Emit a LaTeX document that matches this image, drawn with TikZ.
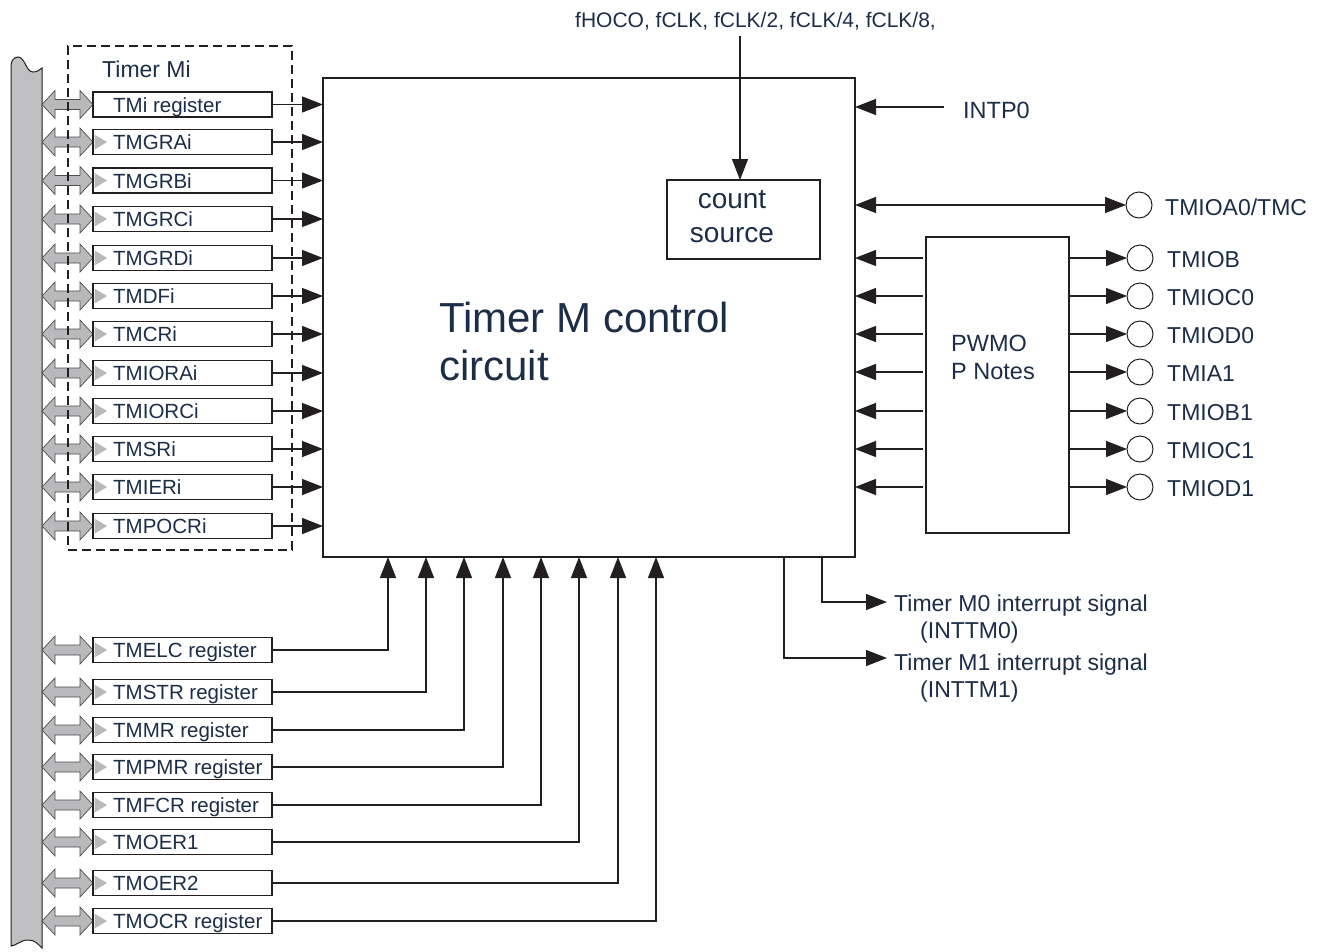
\documentclass[tikz,border=0pt]{standalone}
\usepackage{fontspec}
\setmainfont{Liberation Sans}
\usetikzlibrary{arrows.meta,calc}
\definecolor{txt}{RGB}{28,45,72}
\definecolor{linec}{RGB}{35,31,32}
\definecolor{busgray}{RGB}{192,192,194}
\definecolor{arrgray}{RGB}{185,185,187}
\begin{document}
\begin{tikzpicture}[x=1pt,y=-1pt,
  ln/.style={line width=1.3pt, draw=linec},
  arr/.style={ln, -{Triangle[length=21pt,width=16pt]}},
  arrb/.style={ln, {Triangle[length=21pt,width=16pt]}-{Triangle[length=21pt,width=16pt]}},
  regbox/.style={draw=linec, line width=1.8pt, fill=white, minimum width=179pt, minimum height=25pt, inner sep=0pt, outer sep=0pt},
  regtxt/.style={text=txt, font=\fontsize{20.5}{24}\selectfont, inner sep=0pt, anchor=base west},
  lbl/.style={text=txt, font=\fontsize{23}{27}\selectfont, inner sep=0pt, anchor=base west},
  dbl/.style={fill=arrgray, draw=linec!80, line width=0.7pt},
  pin/.style={circle, draw=linec, line width=1pt, minimum size=26pt, inner sep=0pt, outer sep=0pt},
  plainbox/.style={draw=linec, line width=1.5pt, inner sep=0pt, outer sep=0pt}]
\useasboundingbox (0,0) rectangle (1326,951);
% bus
\draw[fill=busgray, draw=linec, line width=1pt]
  (11,946) -- (11,66) .. controls (11,61) and (14,57) .. (18,57)
  .. controls (25,57) and (26,72) .. (33,72) .. controls (37,72) and (40,70) .. (42,68)
  -- (42,948) .. controls (38,944) and (35,940) .. (28,940)
  .. controls (20,940) and (16,946) .. (11,946) -- cycle;
% main box
\node[plainbox, minimum width=532pt, minimum height=479pt] (main) at (589,317.5) {};
\node[lbl, font=\fontsize{42}{48}\selectfont] (mt1) at (439,332) {Timer M control};
\node[lbl, font=\fontsize{42}{48}\selectfont] (mt2) at (439,380) {circuit};
% count source
\node[plainbox, line width=1.3pt, minimum width=153pt, minimum height=79pt] (cs) at (743.5,219.5) {};
\node[lbl, anchor=base, font=\fontsize{28}{34}\selectfont] (cs1) at (732,208) {count};
\node[lbl, anchor=base, font=\fontsize{28}{34}\selectfont] (cs2) at (732,242) {source};
\node[regtxt, font=\fontsize{21}{24}\selectfont] (clk) at (575,27) {fHOCO, fCLK, fCLK/2, fCLK/4, fCLK/8,};
\draw[arr] ([xshift=-3.5pt]cs.north |- 0,36) -- ([xshift=-3.5pt]cs.north);
% upper registers
\foreach \n/\y/\t in {u1/104.5/TMi register,u2/142/TMGRAi,u3/180.5/TMGRBi,u4/219/TMGRCi,u5/258/TMGRDi,u6/296/TMDFi,u7/334/TMCRi,u8/373/TMIORAi,u9/411/TMIORCi,u10/449/TMSRi,u11/487/TMIERi,u12/526/TMPOCRi}{
  \filldraw[dbl] (42,\y) -- (55,\y-14) -- (55,\y-5) -- (80,\y-5) -- (80,\y-14) -- (93,\y) -- (80,\y+14) -- (80,\y+5) -- (55,\y+5) -- (55,\y+14) -- cycle;
  \node[regbox] (\n) at (182.5,\y) {};
  \node[regtxt] (\n t) at (113,\y+7.5) {\t};
  \draw[arr] (\n.east) -- (\n.east -| main.west);
}
\foreach \y in {142,180.5,219,258,296,334,373,411,449,487,526}{
  \fill[arrgray] (94.5,\y-7.5) -- (107,\y) -- (94.5,\y+7.5) -- cycle;
}
% dashed Timer Mi box
\node[draw=linec, line width=1.2pt, dash pattern=on 9pt off 5pt, minimum width=224pt, minimum height=504pt, inner sep=0pt] (tmi) at (180,298) {};
\node[lbl] (tmil) at (102,77) {Timer Mi};
% lower registers
\foreach \n/\y/\xx/\t in {l1/650/388/TMELC register,l2/692/426/TMSTR register,l3/730/464/TMMR register,l4/767/503/TMPMR register,l5/805/541/TMFCR register,l6/842/579/TMOER1,l7/883/618/TMOER2,l8/921/656/TMOCR register}{
  \filldraw[dbl] (42,\y) -- (55,\y-14) -- (55,\y-5) -- (80,\y-5) -- (80,\y-14) -- (93,\y) -- (80,\y+14) -- (80,\y+5) -- (55,\y+5) -- (55,\y+14) -- cycle;
  \node[regbox] (\n) at (182.5,\y) {};
  \fill[arrgray] (94.5,\y-7.5) -- (107,\y) -- (94.5,\y+7.5) -- cycle;
  \node[regtxt] (\n t) at (113,\y+7.5) {\t};
  \draw[arr] (\n.east) -| (\xx,0 |- main.south);
}
% INTP0
\node[lbl, font=\fontsize{23.5}{27}\selectfont] (intp) at (963,118) {INTP0};
\draw[arr] ([xshift=-19pt]intp.west |- 0,107) -- (main.east |- 0,107);
% TMIOA0/TMC
\node[pin] (pa) at (1139,205) {};
\node[lbl] (pat) at (1165,215) {TMIOA0/TMC};
\draw[arrb] (pa -| main.east) -- (pa.west);
% PWMOP block
\node[plainbox, line width=1.3pt, minimum width=143pt, minimum height=296pt] (pw) at (997.5,385) {};
\node[lbl, font=\fontsize{23.5}{27}\selectfont] (pw1) at (951,351) {PWMO};
\node[lbl, font=\fontsize{23.5}{27}\selectfont] (pw2) at (951,379) {P Notes};
\foreach \n/\y/\t in {p1/258/TMIOB,p2/296/TMIOC0,p3/334/TMIOD0,p4/372/TMIA1,p5/411/TMIOB1,p6/449/TMIOC1,p7/487/TMIOD1}{
  \node[pin] (\n) at (1140,\y) {};
  \node[lbl] (\n t) at (1167,\y+9.5) {\t};
  \draw[arr] ([xshift=-3pt]\n -| pw.west) -- (\n -| main.east);
  \draw[arr] (\n -| pw.east) -- (\n.west);
}
% interrupts
\node[lbl] (i0) at (894,611) {Timer M0 interrupt signal};
\node[lbl] (i0b) at (920,638) {(INTTM0)};
\node[lbl] (i1) at (894,670) {Timer M1 interrupt signal};
\node[lbl] (i1b) at (920,697) {(INTTM1)};
\draw[arr] ([xshift=-33pt]main.south east) |- ([xshift=-7pt]i0.west |- 0,602);
\draw[arr] ([xshift=-71pt]main.south east) |- ([xshift=-7pt]i1.west |- 0,658);
\end{tikzpicture}
\end{document}
